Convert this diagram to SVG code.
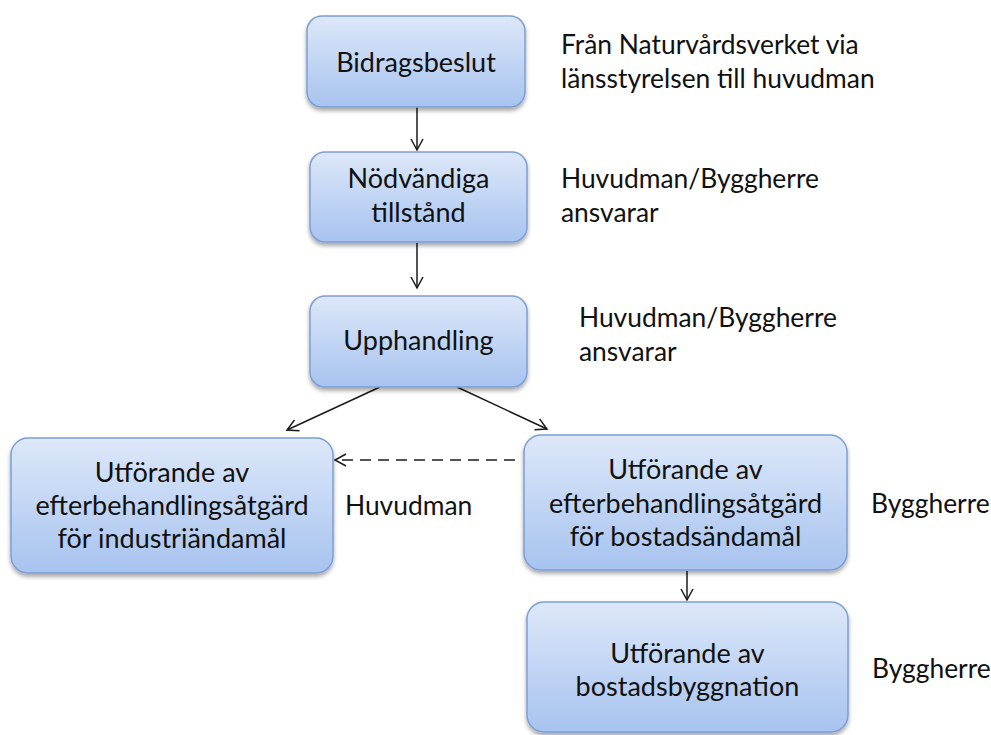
<svg xmlns="http://www.w3.org/2000/svg" width="991" height="735" viewBox="0 0 991 735">
<defs>
<linearGradient id="g" x1="0" y1="0" x2="0" y2="1">
<stop offset="0" stop-color="#dde8f9"/>
<stop offset="1" stop-color="#a7c3ef"/>
</linearGradient>
<filter id="sh" x="-10%" y="-10%" width="120%" height="130%">
<feDropShadow dx="0" dy="3" stdDeviation="2" flood-color="#000" flood-opacity="0.35"/>
</filter>
<marker id="ah" markerUnits="userSpaceOnUse" markerWidth="16" markerHeight="16" viewBox="0 0 16 16" refX="14" refY="8" orient="auto">
<path d="M3,2 L14,8 L3,14" fill="none" stroke="#1a1a1a" stroke-width="1.5"/>
</marker>
<style>
.box{fill:url(#g);stroke:#7c9fd5;stroke-width:1.5;filter:url(#sh)}
.t{font-family:Lato,"Liberation Sans",sans-serif;font-size:27px;fill:#111}
.a{font-size:26.4px}
.c{text-anchor:middle}
.ln{stroke:#1a1a1a;stroke-width:1.5;fill:none;marker-end:url(#ah)}
.d{stroke-dasharray:11 7}
</style>
</defs>
<rect width="991" height="735" fill="#fff"/>
<g id="connectors">
<line class="ln" x1="417" y1="107" x2="417" y2="150"/>
<line class="ln" x1="417" y1="243" x2="417" y2="288"/>
<line class="ln" x1="380" y1="387" x2="287" y2="430"/>
<line class="ln" x1="457" y1="387" x2="547" y2="429"/>
<line class="ln d" x1="515" y1="460" x2="335" y2="460"/>
<line class="ln" x1="687" y1="571" x2="687" y2="600"/>
</g>
<g id="n1">
<rect class="box" x="307" y="16" width="218" height="91" rx="15"/>
<text class="t c" x="416" y="72">Bidragsbeslut</text>
</g>
<g id="n2">
<rect class="box" x="310" y="152" width="217" height="90" rx="15"/>
<text class="t c" x="418.5" y="188">Nödvändiga</text>
<text class="t c" x="418.5" y="222">tillstånd</text>
</g>
<g id="n3">
<rect class="box" x="310" y="296" width="217" height="91" rx="15"/>
<text class="t c" x="418.5" y="350">Upphandling</text>
</g>
<g id="n4">
<rect class="box" x="11" y="438" width="322" height="135" rx="17"/>
<text class="t c" x="172" y="482">Utförande av</text>
<text class="t c" x="172" y="515">efterbehandlingsåtgärd</text>
<text class="t c" x="172" y="548">för industriändamål</text>
</g>
<g id="n5">
<rect class="box" x="524" y="435" width="323" height="135" rx="17"/>
<text class="t c" x="685.5" y="479">Utförande av</text>
<text class="t c" x="685.5" y="513">efterbehandlingsåtgärd</text>
<text class="t c" x="685.5" y="546">för bostadsändamål</text>
</g>
<g id="n6">
<rect class="box" x="527" y="602" width="321" height="130" rx="17"/>
<text class="t c" x="687.5" y="663">Utförande av</text>
<text class="t c" x="687.5" y="696">bostadsbyggnation</text>
</g>
<g id="labels">
<text class="t a" x="561" y="54">Från Naturvårdsverket via</text>
<text class="t a" x="561" y="88">länsstyrelsen till huvudman</text>
<text class="t a" x="561" y="188">Huvudman/Byggherre</text>
<text class="t a" x="561" y="222">ansvarar</text>
<text class="t a" x="579" y="327">Huvudman/Byggherre</text>
<text class="t a" x="579" y="361">ansvarar</text>
<text class="t a" x="345" y="515">Huvudman</text>
<text class="t a" x="871" y="513">Byggherre</text>
<text class="t a" x="872" y="678">Byggherre</text>
</g>
</svg>
